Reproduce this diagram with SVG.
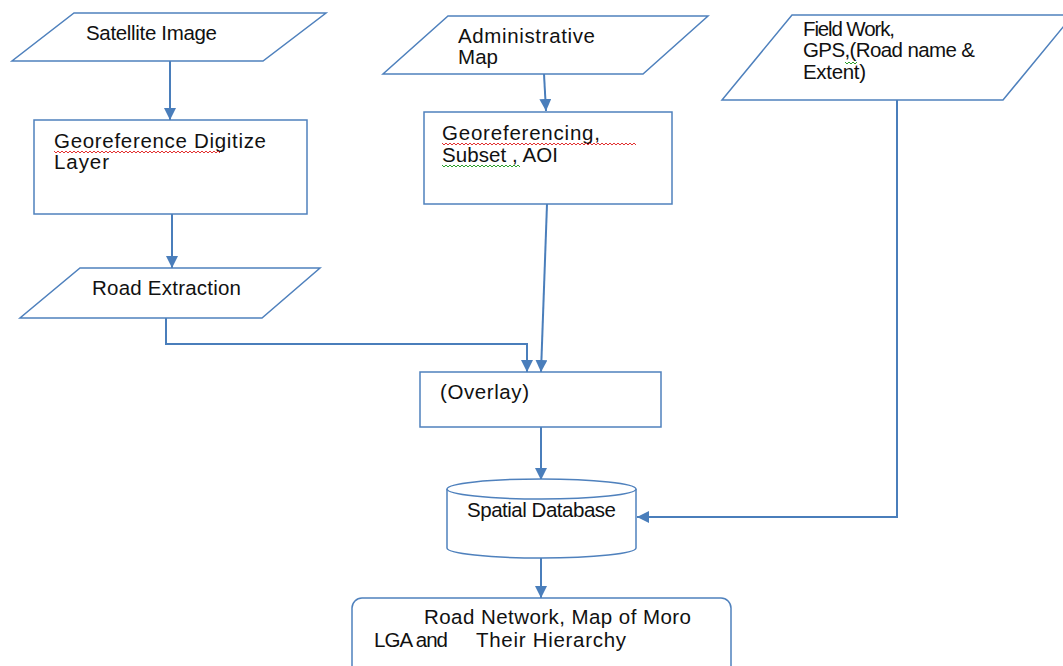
<svg xmlns="http://www.w3.org/2000/svg" width="1063" height="666" viewBox="0 0 1063 666">
<style>
.s{fill:#fff;stroke:#4f81bd;stroke-width:1.5}
.t{font-family:"Liberation Sans",Arial,sans-serif;font-size:20.5px;fill:#111}
.c{fill:none;stroke:#4a7ebb;stroke-width:2}
.red{fill:none;stroke:#e23030;stroke-width:1}
.grn{fill:none;stroke:#2ca02c;stroke-width:1}
</style>
<defs>
<marker id="ah" markerUnits="userSpaceOnUse" markerWidth="12" markerHeight="12" refX="12" refY="6" orient="auto">
<path d="M0,0 L12,6 L0,12 z" fill="#4a7ebb"/>
</marker>
</defs>
<rect width="1063" height="666" fill="#fff"/>
<g id="connectors">
<path class="c" d="M170 61 V120" marker-end="url(#ah)"/>
<path class="c" d="M172 214 V268" marker-end="url(#ah)"/>
<path class="c" d="M166 318 V344 H527 V372" marker-end="url(#ah)"/>
<path class="c" d="M544 74 L546 111" marker-end="url(#ah)"/>
<path class="c" d="M547 204 L541 372" marker-end="url(#ah)"/>
<path class="c" d="M541 427 V480" marker-end="url(#ah)"/>
<path class="c" d="M897 100 V517 H637" marker-end="url(#ah)"/>
<path class="c" d="M541 558 V598" marker-end="url(#ah)"/>
</g>
<g id="satellite">
<polygon class="s" points="74,13 326,13 263,61 12,61"/>
<text class="t" x="86" y="40" font-size="18" textLength="131">Satellite Image</text>
</g>
<g id="georef">
<rect class="s" x="34" y="120" width="273" height="94"/>
<text class="t" x="54" y="148" textLength="212">Georeference Digitize</text>
<text class="t" x="54" y="169" textLength="55">Layer</text>
<path class="red" d="M54 151 l2 2 l2 -2 l2 2 l2 -2 l2 2 l2 -2 l2 2 l2 -2 l2 2 l2 -2 l2 2 l2 -2 l2 2 l2 -2 l2 2 l2 -2 l2 2 l2 -2 l2 2 l2 -2 l2 2 l2 -2 l2 2 l2 -2 l2 2 l2 -2 l2 2 l2 -2 l2 2 l2 -2 l2 2 l2 -2 l2 2 l2 -2 l2 2 l2 -2 l2 2 l2 -2 l2 2 l2 -2 l2 2 l2 -2 l2 2 l2 -2 l2 2 l2 -2 l2 2 l2 -2 l2 2 l2 -2 l2 2 l2 -2 l2 2 l2 -2 l2 2 l2 -2 l2 2 l2 -2 l2 2 l2 -2 l2 2 l2 -2 l2 2 l2 -2 l2 2 l2 -2 l2 2 l2 -2 l2 2 l2 -2 l2 2 l2 -2 l2 2 l2 -2 l2 2 l2 -2 l2 2 l2 -2 l2 2 l2 -2 l2 2 l2 -2 l2 2"/>
</g>
<g id="roadextraction">
<polygon class="s" points="80,268 320,268 262,318 20,318"/>
<text class="t" x="92" y="295" textLength="149">Road Extraction</text>
</g>
<g id="adminmap">
<polygon class="s" points="448,16 708,16 643,74 383,74"/>
<text class="t" x="458" y="43" textLength="137">Administrative</text>
<text class="t" x="458" y="64" textLength="40">Map</text>
</g>
<g id="georeferencing">
<rect class="s" x="424" y="112" width="248" height="92"/>
<text class="t" x="442" y="140" textLength="158">Georeferencing,</text>
<text class="t" x="442" y="162" textLength="116">Subset , AOI</text>
<path class="red" d="M442 143 l2 2 l2 -2 l2 2 l2 -2 l2 2 l2 -2 l2 2 l2 -2 l2 2 l2 -2 l2 2 l2 -2 l2 2 l2 -2 l2 2 l2 -2 l2 2 l2 -2 l2 2 l2 -2 l2 2 l2 -2 l2 2 l2 -2 l2 2 l2 -2 l2 2 l2 -2 l2 2 l2 -2 l2 2 l2 -2 l2 2 l2 -2 l2 2 l2 -2 l2 2 l2 -2 l2 2 l2 -2 l2 2 l2 -2 l2 2 l2 -2 l2 2 l2 -2 l2 2 l2 -2 l2 2 l2 -2 l2 2 l2 -2 l2 2 l2 -2 l2 2 l2 -2 l2 2 l2 -2 l2 2 l2 -2 l2 2 l2 -2 l2 2 l2 -2 l2 2 l2 -2 l2 2 l2 -2 l2 2 l2 -2 l2 2 l2 -2 l2 2 l2 -2 l2 2 l2 -2 l2 2 l2 -2 l2 2 l2 -2 l2 2 l2 -2 l2 2 l2 -2 l2 2 l2 -2 l2 2 l2 -2 l2 2 l2 -2 l2 2 l2 -2 l2 2 l2 -2 l2 2 l2 -2 l2 2"/>
<path class="grn" d="M442 165 l2 2 l2 -2 l2 2 l2 -2 l2 2 l2 -2 l2 2 l2 -2 l2 2 l2 -2 l2 2 l2 -2 l2 2 l2 -2 l2 2 l2 -2 l2 2 l2 -2 l2 2 l2 -2 l2 2 l2 -2 l2 2 l2 -2 l2 2 l2 -2 l2 2 l2 -2 l2 2 l2 -2 l2 2 l2 -2 l2 2 l2 -2 l2 2 l2 -2 l2 2 l2 -2 l2 2"/>
</g>
<g id="fieldwork">
<polygon class="s" points="792,15 1073,15 1003,100 722,100"/>
<text class="t" x="803" y="36" font-size="16.5" textLength="92">Field Work,</text>
<text class="t" x="803" y="57" font-size="16.5" textLength="172">GPS,(Road name &amp;</text>
<text class="t" x="803" y="79" font-size="16.5" textLength="63">Extent)</text>
<path class="grn" d="M845 62 l2 2 l2 -2 l2 2 l2 -2 l2 2 l2 -2"/>
</g>
<g id="overlay">
<rect class="s" x="420" y="372" width="241" height="55"/>
<text class="t" x="440" y="399" textLength="89">(Overlay)</text>
</g>
<g id="database">
<path class="s" d="M447 489 V548 A94.5 10 0 0 0 636 548 V489"/>
<ellipse class="s" cx="541.5" cy="489" rx="94.5" ry="10"/>
<text class="t" x="467" y="517" font-size="18" textLength="149">Spatial Database</text>
</g>
<g id="roadnetwork">
<rect class="s" x="352" y="598" width="379" height="80" rx="10"/>
<text class="t" x="424" y="624" textLength="267">Road Network, Map of Moro</text>
<text class="t" x="374" y="647" textLength="74">LGA and</text>
<text class="t" x="476" y="647" textLength="150">Their Hierarchy</text>
</g>
</svg>
